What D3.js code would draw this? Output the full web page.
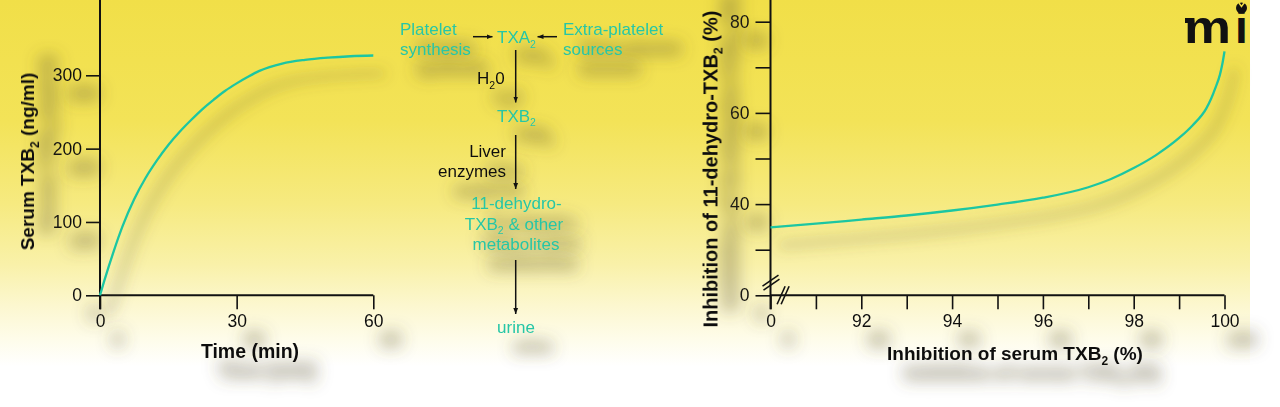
<!DOCTYPE html>
<html>
<head>
<meta charset="utf-8">
<script src="https://cdn.jsdelivr.net/npm/d3@7"></script>
<style>
  html, body { margin: 0; padding: 0; background: #ffffff; }
  svg { display: block; }
  text { font-family: "Liberation Sans", Arial, Helvetica, sans-serif; }
</style>
</head>
<body>
<svg id="chart" width="1280" height="407"></svg>
<script>
// ---------- DATA ----------
// Left panel: serum TXB2 generation over time
const timeMin   = [0, 1, 3, 5, 7.5, 10, 12.5, 15, 17.5, 20, 22.5, 25, 27.5, 30, 32.5, 35, 40, 45, 50, 55, 60];
const serumTXB2 = [0, 21, 60, 95, 131, 160, 184, 205, 223, 239, 254, 267, 279, 289, 298, 306, 316, 321, 324, 326, 327];
const leftXTicks = [0, 30, 60];
const leftYTicks = [0, 100, 200, 300];

// Right panel: inhibition of 11-dehydro-TXB2 vs inhibition of serum TXB2
const inhSerum = [90, 91, 92, 93, 94, 95, 96, 97, 97.5, 98, 98.5, 99, 99.3, 99.6, 99.7, 99.8, 99.9, 99.95, 100];
const inh11    = [34.9, 35.7, 36.6, 37.5, 38.6, 39.9, 41.4, 43.7, 45.5, 47.9, 50.8, 54.5, 57.3, 61.0, 63.0, 65.5, 68.4, 70.6, 73.5];
const rightXTicks  = [90, 91, 92, 93, 94, 95, 96, 97, 98, 99, 100];
const rightXLabels = ["0", "", "92", "", "94", "", "96", "", "98", "", "100"];
const rightYTicks  = [20, 30, 40, 50, 60, 70, 80];
const rightYLabels = ["0", "", "40", "", "60", "", "80"];

// ---------- SETUP ----------
const svg = d3.select("#chart");
const TEAL = "#1cc6a2";
const TEAL_TEXT = "#26c6a6";
const defs = svg.append("defs");

const grad = defs.append("linearGradient").attr("id", "bg").attr("x1", 0).attr("y1", 0).attr("x2", 0).attr("y2", 1);
[[0, "#f1df48"], [0.3, "#f3e358"], [0.5, "#f6ea80"], [0.65, "#f9f1a9"], [0.75, "#fcf7cf"], [0.83, "#fefce9"], [0.9, "#ffffff"]]
  .forEach(([o, c]) => grad.append("stop").attr("offset", o).attr("stop-color", c));

function makeShadow(id, dil, sd, dx, dy, op) {
  const f = defs.append("filter").attr("id", id).attr("filterUnits", "userSpaceOnUse")
    .attr("x", -1500).attr("y", -1500).attr("width", 3000).attr("height", 3000);
  f.append("feMorphology").attr("in", "SourceAlpha").attr("operator", "dilate").attr("radius", dil).attr("result", "dil");
  f.append("feGaussianBlur").attr("in", "dil").attr("stdDeviation", sd).attr("result", "blur");
  f.append("feOffset").attr("in", "blur").attr("dx", dx).attr("dy", dy).attr("result", "off");
  f.append("feFlood").attr("flood-color", "#5e5630").attr("flood-opacity", op);
  f.append("feComposite").attr("in2", "off").attr("operator", "in").attr("result", "sh");
  const fm = f.append("feMerge");
  fm.append("feMergeNode").attr("in", "sh");
  fm.append("feMergeNode").attr("in", "SourceGraphic");
}
makeShadow("tshadow", 1.5, 8, 17, 19, 0.36);
makeShadow("cshadow", 1.5, 7, 10, 18, 0.28);

defs.append("marker").attr("id", "ah").attr("viewBox", "0 0 10 10").attr("refX", 10).attr("refY", 5)
  .attr("markerWidth", 6).attr("markerHeight", 6).attr("markerUnits", "userSpaceOnUse").attr("orient", "auto")
  .append("path").attr("d", "M0,1 L10,5 L0,9 Z").attr("fill", "#111");

svg.append("rect").attr("width", 1280).attr("height", 407).attr("fill", "#fff");
svg.append("rect").attr("width", 1250).attr("height", 407).attr("fill", "url(#bg)");

const content = svg.append("g");

function styleAxis(g) {
  g.select(".domain").remove();
  g.selectAll(".tick line").attr("stroke", "#111").attr("stroke-width", 1.6);
  g.selectAll(".tick text").attr("fill", "#111").attr("font-size", 17.5)
    .attr("font-family", "'Liberation Sans', Arial, sans-serif");
}
function addSub(textSel, parts, subSize) {
  parts.forEach(p => {
    if (p.sub) textSel.append("tspan").attr("font-size", subSize).attr("dy", 4.5).text(p.t);
    else textSel.append("tspan").attr("dy", p.back ? -4.5 : 0).text(p.t);
  });
}

// ---------- LEFT CHART ----------
const xL = d3.scaleLinear().domain([0, 60]).range([100, 373.3]);
const yL = d3.scaleLinear().domain([0, 300]).range([295.3, 75.3]);
const gL = content.append("g");

gL.append("g").attr("transform", `translate(0,${yL(0)})`)
  .call(d3.axisBottom(xL).tickValues(leftXTicks).tickSize(14).tickPadding(5).tickSizeOuter(0))
  .call(styleAxis);
gL.append("g").attr("transform", `translate(${xL(0)},0)`)
  .call(d3.axisLeft(yL).tickValues(leftYTicks).tickSize(14).tickPadding(4).tickSizeOuter(0))
  .call(styleAxis);
gL.append("line").attr("x1", xL(0)).attr("x2", xL(0)).attr("y1", 0).attr("y2", yL(0) + 14)
  .attr("stroke", "#111").attr("stroke-width", 2);
gL.append("line").attr("x1", xL(0)).attr("x2", xL(60)).attr("y1", yL(0)).attr("y2", yL(0))
  .attr("stroke", "#111").attr("stroke-width", 2);

gL.append("path").datum(timeMin.map((t, i) => [t, serumTXB2[i]]))
  .attr("fill", "none").attr("stroke", TEAL).attr("stroke-width", 2.3).attr("filter", "url(#cshadow)")
  .attr("d", d3.line().x(d => xL(d[0])).y(d => yL(d[1])).curve(d3.curveMonotoneX));

gL.append("text").attr("x", 250).attr("y", 357.5).attr("text-anchor", "middle")
  .attr("font-size", 19.5).attr("font-weight", "bold").attr("fill", "#111").text("Time (min)");
const ltl = gL.append("text").attr("transform", "translate(34,161.5) rotate(-90)").attr("text-anchor", "middle")
  .attr("font-size", 19).attr("font-weight", "bold").attr("fill", "#111");
addSub(ltl, [{t: "Serum TXB"}, {t: "2", sub: true}, {t: " (ng/ml)", back: true}], 12);

// ---------- MIDDLE DIAGRAM ----------
const gM = content.append("g").attr("fill", TEAL_TEXT).attr("font-size", 17);
function mText(x, y, anchor, parts, color) {
  const t = gM.append("text").attr("x", x).attr("y", y).attr("text-anchor", anchor).attr("fill", color || TEAL_TEXT);
  addSub(t, parts, 10.5);
  return t;
}
mText(400, 34.5, "start", [{t: "Platelet"}]);
mText(400, 55, "start", [{t: "synthesis"}]);
mText(563, 34.5, "start", [{t: "Extra-platelet"}]);
mText(563, 55, "start", [{t: "sources"}]);
mText(497, 43, "start", [{t: "TXA"}, {t: "2", sub: true}]);
mText(477, 84, "start", [{t: "H"}, {t: "2", sub: true}, {t: "0", back: true}], "#111");
mText(497, 121.5, "start", [{t: "TXB"}, {t: "2", sub: true}]);
mText(506, 156.5, "end", [{t: "Liver"}], "#111");
mText(506, 176.5, "end", [{t: "enzymes"}], "#111");
mText(516.5, 208.5, "middle", [{t: "11-dehydro-"}]);
mText(514, 229.5, "middle", [{t: "TXB"}, {t: "2", sub: true}, {t: " & other", back: true}]);
mText(516, 250, "middle", [{t: "metabolites"}]);
mText(516, 333, "middle", [{t: "urine"}]);

const arrows = [
  [473, 36.7, 492.5, 36.7], [557, 36.7, 537.5, 36.7],
  [515.7, 50, 515.7, 102.5], [515.7, 135, 515.7, 189], [515.7, 260, 515.7, 314]
];
gM.selectAll("line.arrow").data(arrows).join("line").attr("class", "arrow")
  .attr("x1", d => d[0]).attr("y1", d => d[1]).attr("x2", d => d[2]).attr("y2", d => d[3])
  .attr("stroke", "#111").attr("stroke-width", 1.5).attr("marker-end", "url(#ah)");

// ---------- RIGHT CHART ----------
const xR = d3.scaleLinear().domain([90, 100]).range([770.5, 1224.5]);
const yR = d3.scaleLinear().domain([20, 80]).range([295.3, 21.7]);
const gR = content.append("g");

gR.append("g").attr("transform", `translate(0,${yR(20)})`)
  .call(d3.axisBottom(xR).tickValues(rightXTicks).tickFormat((d, i) => rightXLabels[i])
    .tickSize(14).tickPadding(5).tickSizeOuter(0))
  .call(styleAxis);
gR.append("g").attr("transform", `translate(${xR(90)},0)`)
  .call(d3.axisLeft(yR).tickValues(rightYTicks).tickFormat((d, i) => rightYLabels[i])
    .tickSize(15).tickPadding(6).tickSizeOuter(0))
  .call(styleAxis);
gR.append("line").attr("x1", xR(90)).attr("x2", xR(90)).attr("y1", 0).attr("y2", yR(20) + 14)
  .attr("stroke", "#111").attr("stroke-width", 2);
gR.append("line").attr("x1", xR(90)).attr("x2", xR(100)).attr("y1", yR(20)).attr("y2", yR(20))
  .attr("stroke", "#111").attr("stroke-width", 2);

// axis break marks
const bx = xR(90), by = yR(23.1);
const bx2 = xR(90.3), by2 = yR(20);
const breaks = [
  [bx - 8, by + 5, bx + 8, by - 6], [bx - 7, by + 9, bx + 9, by - 2],
  [bx2 - 7, by2 + 9, bx2 + 1, by2 - 9], [bx2 - 3, by2 + 9, bx2 + 5, by2 - 9]
];
gR.selectAll("line.brk").data(breaks).join("line").attr("class", "brk")
  .attr("x1", d => d[0]).attr("y1", d => d[1]).attr("x2", d => d[2]).attr("y2", d => d[3])
  .attr("stroke", "#111").attr("stroke-width", 1.6);

gR.append("path").datum(inhSerum.map((x, i) => [x, inh11[i]]))
  .attr("fill", "none").attr("stroke", TEAL).attr("stroke-width", 2.3).attr("filter", "url(#cshadow)")
  .attr("d", d3.line().x(d => xR(d[0])).y(d => yR(d[1])).curve(d3.curveMonotoneX));

const rxt = gR.append("text").attr("x", 1015).attr("y", 360).attr("text-anchor", "middle")
  .attr("font-size", 19).attr("font-weight", "bold").attr("fill", "#111");
addSub(rxt, [{t: "Inhibition of serum TXB"}, {t: "2", sub: true}, {t: " (%)", back: true}], 12);
const ryt = gR.append("text").attr("transform", "translate(717.5,169) rotate(-90)").attr("text-anchor", "middle")
  .attr("font-size", 20).attr("font-weight", "bold").attr("fill", "#111");
addSub(ryt, [{t: "Inhibition of 11-dehydro-TXB"}, {t: "2", sub: true}, {t: " (%)", back: true}], 12.5);

// soft drop shadows behind every text of the figure
content.selectAll("text").attr("filter", "url(#tshadow)");

// ---------- LOGO ----------
const logo = svg.append("g");
logo.append("text").attr("transform", "translate(1184,43) scale(1.15,1)")
  .attr("font-size", 46).attr("font-weight", "bold").attr("fill", "#111").text("m");
logo.append("rect").attr("x", 1185).attr("y", 18).attr("width", 9).attr("height", 5).attr("fill", "#111");
logo.append("text").attr("x", 1235).attr("y", 43)
  .attr("font-size", 46).attr("font-weight", "bold").attr("fill", "#111").text("i");
logo.append("circle").attr("cx", 1241.5).attr("cy", 8).attr("r", 5.5).attr("fill", "#111");
logo.append("path").attr("d", "M1239,3 L1241.5,6.5 L1245,1.5").attr("fill", "none").attr("stroke", "#f1df48").attr("stroke-width", 1.4);
</script>
</body>
</html>
